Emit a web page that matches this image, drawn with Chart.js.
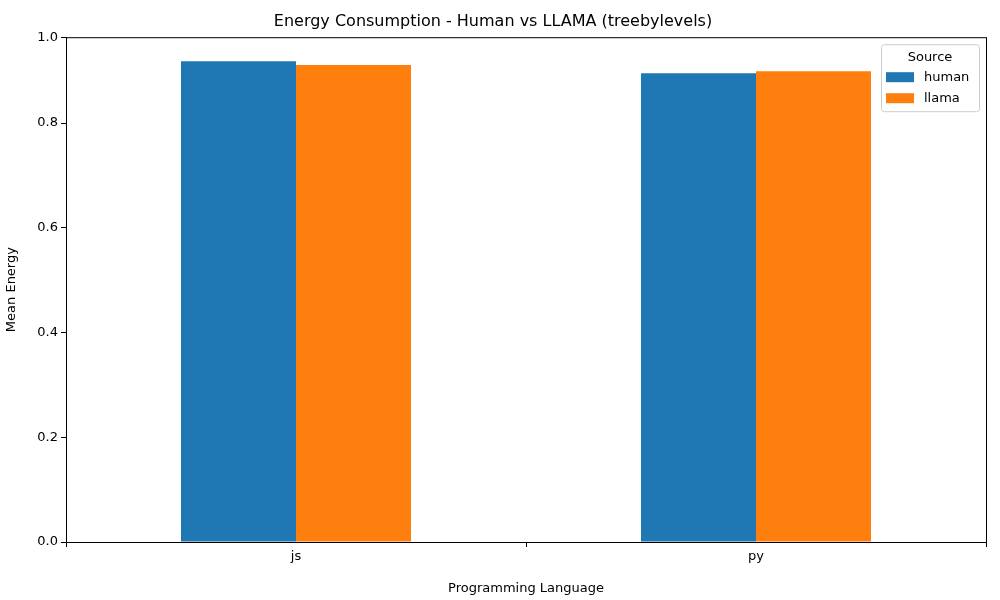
<!DOCTYPE html>
<html>
<head>
<title>Energy Consumption</title>
<script src="https://cdn.jsdelivr.net/npm/chart.js"></script>
<style>body{margin:0;background:#fff}</style>
</head>
<body>
<div style="width:1000px;height:600px"><canvas id="chart"></canvas></div>
<script>
const languages = ['js', 'py'];
const humanEnergy = [0.918, 0.895];
const llamaEnergy = [0.911, 0.899];
const legendTitle = 'Source';

// matplotlib-like frame and inside legend
const framePlugin = {
    id: 'frame',
    afterDraw(chart) {
        const ctx = chart.ctx, a = chart.chartArea;
        ctx.save();
        ctx.strokeStyle = '#000';
        ctx.lineWidth = 1;
        ctx.strokeRect(a.left + 0.5, a.top + 0.5, a.right - a.left, a.bottom - a.top);
        // legend
        const x = a.right - 105, y = a.top + 7, w = 98, h = 67;
        ctx.fillStyle = 'rgba(255,255,255,0.8)';
        ctx.strokeStyle = '#ccc';
        ctx.beginPath();
        ctx.roundRect(x + 0.5, y + 0.5, w, h, 3);
        ctx.fill();
        ctx.stroke();
        ctx.fillStyle = '#000';
        ctx.font = '13px "DejaVu Sans"';
        ctx.textAlign = 'center';
        ctx.textBaseline = 'middle';
        ctx.fillText(legendTitle, x + w / 2, y + 13);
        ctx.textAlign = 'left';
        chart.data.datasets.forEach((ds, i) => {
            const ry = y + 33 + i * 21;
            ctx.fillStyle = ds.backgroundColor;
            ctx.fillRect(x + 5, ry - 5, 28, 10);
            ctx.fillStyle = '#000';
            ctx.fillText(ds.label, x + 43, ry);
        });
        ctx.restore();
    }
};

new Chart(document.getElementById('chart'), {
    type: 'bar',
    data: {
        labels: languages,
        datasets: [
            { label: 'human', data: humanEnergy, backgroundColor: '#1f77b4' },
            { label: 'llama', data: llamaEnergy, backgroundColor: '#ff7f0e' }
        ]
    },
    options: {
        responsive: true,
        maintainAspectRatio: false,
        animation: false,
        devicePixelRatio: 1,
        categoryPercentage: 0.5,
        barPercentage: 1,
        layout: { padding: { left: 0, right: 14, top: 0, bottom: 0 } },
        plugins: {
            legend: { display: false },
            tooltip: { enabled: false },
            title: {
                display: true,
                text: 'Energy Consumption - Human vs LLAMA (treebylevels)',
                color: '#000',
                font: { family: 'DejaVu Sans', size: 16, weight: 'normal' },
                padding: { top: 12, bottom: 6 }
            }
        },
        scales: {
            x: {
                offset: true,
                grid: { display: true, drawOnChartArea: false, tickLength: 5, color: '#000' },
                border: { color: '#000' },
                ticks: { color: '#000', font: { family: 'DejaVu Sans', size: 13 }, padding: 2 },
                title: { display: true, text: 'Programming Language', color: '#000',
                         font: { family: 'DejaVu Sans', size: 13 }, padding: { top: 4 } },
                afterFit(s) { s.height = 58; }
            },
            y: {
                min: 0,
                max: 0.964,
                grid: { display: true, drawOnChartArea: false, tickLength: 5, color: '#000' },
                border: { color: '#000' },
                ticks: { stepSize: 0.2, color: '#000', font: { family: 'DejaVu Sans', size: 13 },
                         padding: 3, callback: v => v.toFixed(1) },
                title: { display: true, text: 'Mean Energy', color: '#000',
                         font: { family: 'DejaVu Sans', size: 13 }, padding: { bottom: 6 } },
                afterFit(s) { s.width = 66; }
            }
        }
    },
    plugins: [framePlugin]
});
</script>
</body>
</html>
